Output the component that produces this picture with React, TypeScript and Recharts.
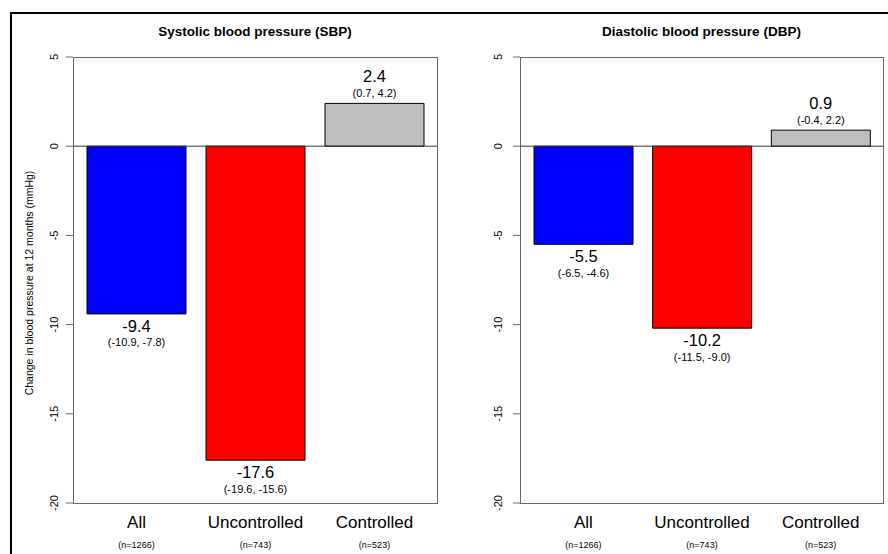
import React from 'react';
import { BarChart, Bar, XAxis, YAxis, Cell, LabelList, ReferenceLine } from 'recharts';

// categories and values
const groups = ['All', 'Uncontrolled', 'Controlled'];
const groupN = ['(n=1266)', '(n=743)', '(n=523)'];

const sbpMean = [-9.4, -17.6, 2.4];
const sbpLow = [-10.9, -19.6, 0.7];
const sbpHigh = [-7.8, -15.6, 4.2];

const dbpMean = [-5.5, -10.2, 0.9];
const dbpLow = [-6.5, -11.5, -0.4];
const dbpHigh = [-4.6, -9.0, 2.2];

const yTicks = [5, 0, -5, -10, -15, -20];
const barColors = ['#0000FF', '#FF0000', '#BEBEBE'];

const FONT = '"Liberation Sans", Arial, Helvetica, sans-serif';
const AXIS_GREY = '#666';

const buildRows = (mean: number[], low: number[], high: number[]) =>
    groups.map((g, i) => ({
        name: g,
        value: mean[i],
        tag: `${mean[i].toFixed(1)}|(${low[i].toFixed(1)}, ${high[i].toFixed(1)})`,
    }));

const sbpRows = buildRows(sbpMean, sbpLow, sbpHigh);
const dbpRows = buildRows(dbpMean, dbpLow, dbpHigh);

// value + CI above positive bars, below negative ones
const renderBarLabel = (props: any) => {
    const x = Number(props.x);
    const y = Number(props.y);
    const w = Number(props.width);
    const h = Number(props.height);
    const [mean, ci] = String(props.value).split('|');
    const top = Math.min(y, y + h);
    const bottom = Math.max(y, y + h);
    const cx = x + w / 2;
    const neg = parseFloat(mean) < 0;
    const vy = neg ? bottom + 18 : top - 21;
    const cy = neg ? bottom + 32.5 : top - 6;
    return (
        <g>
            <text x={cx} y={vy} textAnchor="middle" fontSize={16.5} fill="#000" fontFamily={FONT}>{mean}</text>
            <text x={cx} y={cy} textAnchor="middle" fontSize={11} fill="#000" fontFamily={FONT}>{ci}</text>
        </g>
    );
};

const XTick = (props: any) => {
    const { x, y, payload } = props;
    const i = groups.indexOf(payload.value);
    return (
        <g>
            <text x={x} y={y + 25} textAnchor="middle" fontSize={17} fill="#000" fontFamily={FONT}>{payload.value}</text>
            <text x={x} y={y + 45} textAnchor="middle" fontSize={9} fill="#000" fontFamily={FONT}>{groupN[i]}</text>
        </g>
    );
};

const makeYTick = (gap: number) => (props: any) => {
    const { x, y, payload } = props;
    const tx = x - gap;
    return (
        <text x={tx} y={y} transform={`rotate(-90 ${tx} ${y})`} textAnchor="middle" fontSize={11} fill="#000" fontFamily={FONT}>
            {payload.value}
        </text>
    );
};

interface PanelProps {
    title: string;
    rows: typeof sbpRows;
    left: number;
    axisWidth: number;
    rightMargin: number;
    tickGap: number;
    yLabel?: string;
}

const Panel: React.FC<PanelProps> = ({ title, rows, left, axisWidth, rightMargin, tickGap, yLabel }) => {
    const W = 444;
    const H = 554;
    const top = 57;
    const xAxisH = 51;
    const plotW = W - axisWidth - rightMargin;
    const plotH = H - top - xAxisH;
    return (
        <div style={{ position: 'absolute', left, top: 0, width: W, height: H }}>
            <div style={{
                position: 'absolute', left: axisWidth, top: 24, width: plotW, lineHeight: '16px',
                textAlign: 'center', fontWeight: 'bold', fontSize: 13.5, fontFamily: FONT, color: '#000',
            }}>
                {title}
            </div>
            <BarChart width={W} height={H} data={rows} margin={{ top, right: rightMargin, bottom: 0, left: 0 }}>
                <XAxis
                    dataKey="name"
                    height={xAxisH}
                    padding={{ left: 4, right: 3 }}
                    axisLine={false}
                    tickLine={false}
                    tickSize={0}
                    tickMargin={0}
                    interval={0}
                    tick={<XTick />}
                />
                <YAxis
                    width={axisWidth}
                    domain={[-20, 5]}
                    ticks={yTicks}
                    axisLine={false}
                    tickSize={7}
                    tickMargin={0}
                    tickLine={{ stroke: AXIS_GREY }}
                    tick={makeYTick(tickGap)}
                    label={yLabel ? {
                        content: (p: any) => {
                            const vb = p.viewBox || { x: 0, y: top, width: axisWidth, height: plotH };
                            const lx = vb.x + 33;
                            const ly = vb.y + vb.height / 2 + 3;
                            return (
                                <text x={lx} y={ly} transform={`rotate(-90 ${lx} ${ly})`} textAnchor="middle"
                                    fontSize={10.5} fill="#000" fontFamily={FONT}>{yLabel}</text>
                            );
                        },
                    } : undefined}
                />
                <ReferenceLine y={0} stroke="#333" strokeWidth={1} />
                <Bar dataKey="value" barSize={99} stroke="#000" strokeWidth={1} isAnimationActive={false}>
                    {rows.map((r, i) => (
                        <Cell key={r.name} fill={barColors[i]} />
                    ))}
                    <LabelList dataKey="tag" content={renderBarLabel} />
                </Bar>
            </BarChart>
            {/* plot box */}
            <div style={{
                position: 'absolute', left: axisWidth, top, width: plotW + 1, height: plotH + 1,
                border: `1px solid ${AXIS_GREY}`, boxSizing: 'border-box', pointerEvents: 'none',
            }} />
        </div>
    );
};

export default function App() {
    return (
        <div style={{
            position: 'absolute', left: 0, top: 0, width: 888, height: 554,
            overflow: 'hidden', background: '#fff', fontFamily: FONT,
        }}>
            {/* outer frame, only top/left edges visible in the crop */}
            <div style={{
                position: 'absolute', left: 10, top: 12, width: 1000, height: 1000,
                borderTop: '2px solid #000', borderLeft: '2px solid #000',
            }} />
            <Panel
                title="Systolic blood pressure (SBP)"
                rows={sbpRows}
                left={0}
                axisWidth={73}
                rightMargin={7}
                tickGap={8}
                yLabel="Change in blood pressure at 12 months (mmHg)"
            />
            <Panel
                title="Diastolic blood pressure (DBP)"
                rows={dbpRows}
                left={444}
                axisWidth={76}
                rightMargin={5}
                tickGap={11}
            />
        </div>
    );
}
